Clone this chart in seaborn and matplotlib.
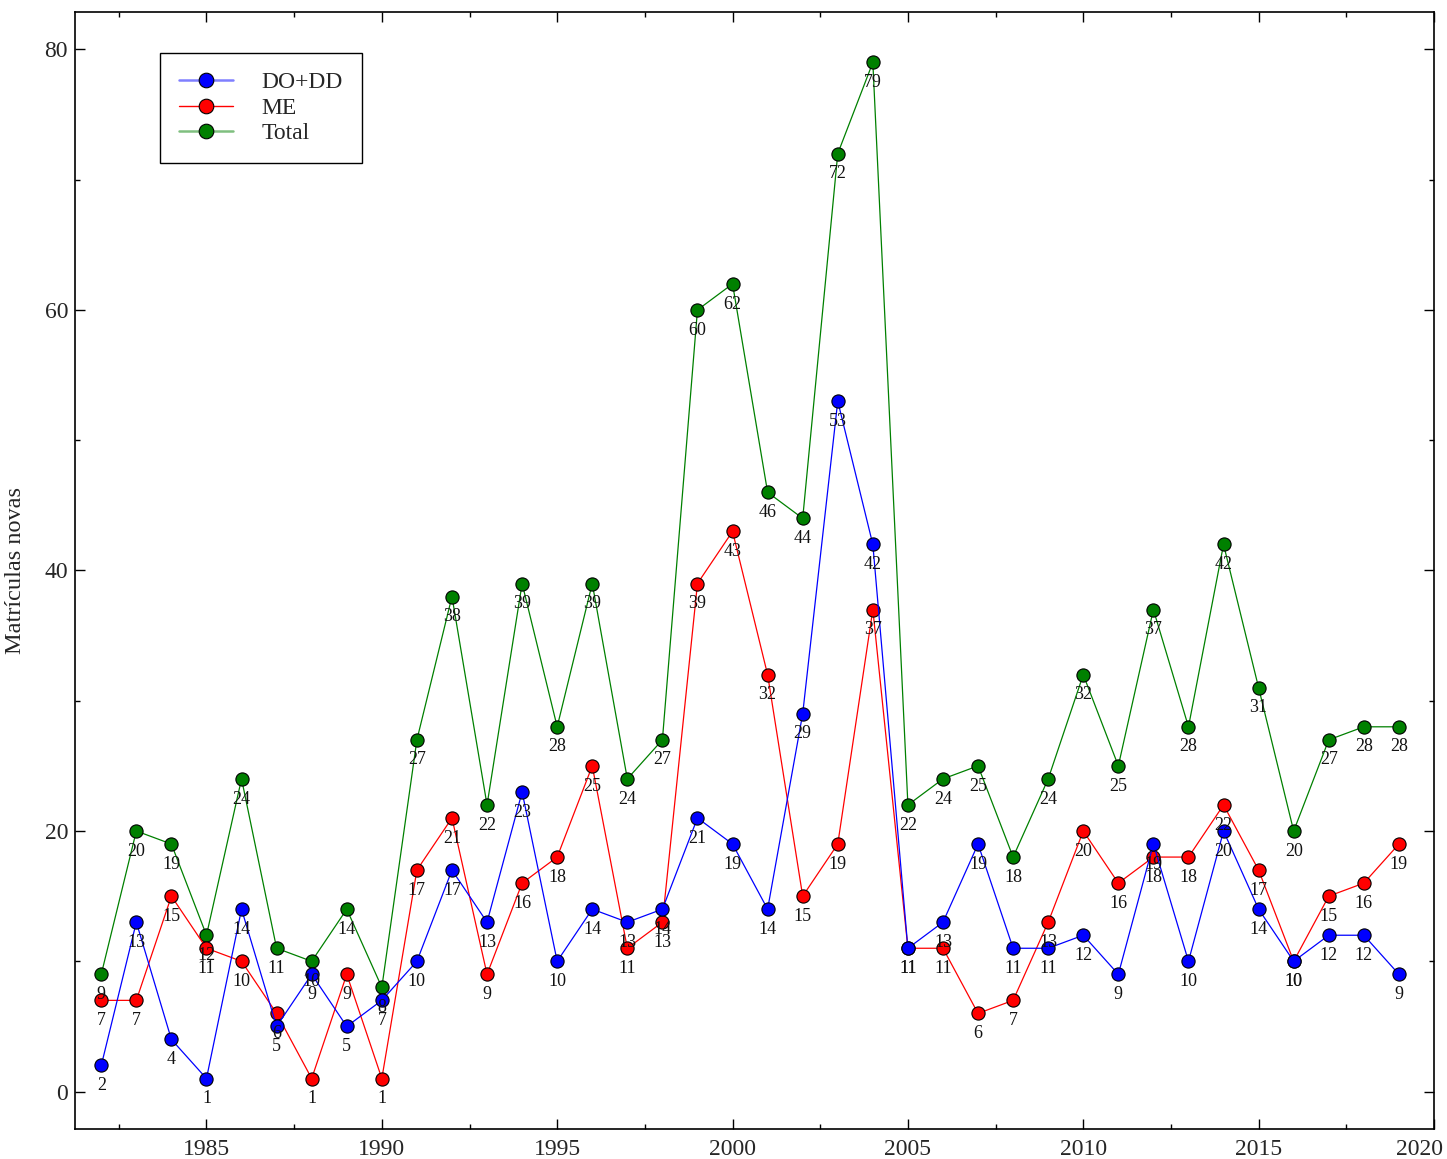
import numpy as np
import pandas as pd
import matplotlib
matplotlib.use("Agg")
import matplotlib.pyplot as plt
import matplotlib.transforms as mtransforms
from matplotlib.lines import Line2D
from matplotlib.ticker import MultipleLocator, FixedLocator
import seaborn as sns

years = list(range(1982, 2020))
do_dd = [2, 13, 4, 1, 14, 5, 9, 5, 7, 10, 17, 13, 23, 10, 14, 13, 14, 21, 19, 14,
         29, 53, 42, 11, 13, 19, 11, 11, 12, 9, 19, 10, 20, 14, 10, 12, 12, 9]
me = [7, 7, 15, 11, 10, 6, 1, 9, 1, 17, 21, 9, 16, 18, 25, 11, 13, 39, 43, 32,
      15, 19, 37, 11, 11, 6, 7, 13, 20, 16, 18, 18, 22, 17, 10, 15, 16, 19]
total = [9, 20, 19, 12, 24, 11, 10, 14, 8, 27, 38, 22, 39, 28, 39, 24, 27, 60, 62, 46,
         44, 72, 79, 22, 24, 25, 18, 24, 32, 25, 37, 28, 42, 31, 20, 27, 28, 28]
x_ticks = [1985, 1990, 1995, 2000, 2005, 2010, 2015, 2020]

series_names = ["DO+DD", "ME", "Total"]
series_colors = {"DO+DD": "#0000ff", "ME": "#ff0000", "Total": "#008000"}

df = pd.DataFrame({"Ano": years, "DO+DD": do_dd, "ME": me, "Total": total})
long_df = df.melt(id_vars="Ano", var_name="Serie", value_name="Matriculas")

sns.set_style("ticks")
plt.rcParams["font.family"] = ["Liberation Serif", "DejaVu Serif"]
plt.rcParams["mathtext.fontset"] = "stix"

fig = plt.figure(figsize=(14.47, 11.59), dpi=100)
ax = fig.add_axes([0.0518, 0.0256, 0.9392, 0.9638])

# draw Total first, DO+DD last so blue markers sit on top
for name in ["Total", "ME", "DO+DD"]:
    sub = long_df[long_df["Serie"] == name]
    sns.lineplot(data=sub, x="Ano", y="Matriculas", ax=ax, color=series_colors[name],
                 linewidth=0.9, marker="o", markersize=9.5, markeredgecolor="black",
                 markeredgewidth=0.8, markerfacecolor=series_colors[name],
                 legend=False, zorder=3)
    for x, y in zip(sub["Ano"], sub["Matriculas"]):
        ax.annotate(str(y), (x, y), xytext=(0, -14.5), textcoords="offset points",
                    ha="center", va="center", fontsize=13, color="#111111", zorder=4)

ax.set_xlim(1981.25, 2020)
ax.set_ylim(-2.9, 82.85)
ax.xaxis.set_major_locator(FixedLocator(x_ticks))
ax.xaxis.set_minor_locator(MultipleLocator(2.5))
ax.yaxis.set_major_locator(MultipleLocator(20))
ax.yaxis.set_minor_locator(MultipleLocator(10))
ax.tick_params(which="both", direction="in", top=True, right=True, width=1.0,
               labelsize=17, color="black")
ax.tick_params(which="major", length=7)
ax.tick_params(which="minor", length=3.5)
ax.tick_params(axis="y", pad=5)
ax.tick_params(axis="x", pad=7)
for sp in ax.spines.values():
    sp.set_linewidth(1.2)
    sp.set_color("black")

ax.set_xlabel("")
ax.set_ylabel("Matrículas novas", fontsize=17.5, labelpad=13)

# keep the right-most year label inside the figure
fig.canvas.draw()
for lab in ax.get_xticklabels():
    if lab.get_text() == str(x_ticks[-1]):
        lab.set_transform(lab.get_transform() +
                          mtransforms.ScaledTranslation(-14 / 100, 0, fig.dpi_scale_trans))

handles = [
    Line2D([0], [0], color=(0, 0, 1, 0.5), lw=1.8, marker="o", markersize=10.5,
           markerfacecolor="#0000ff", markeredgecolor="black", markeredgewidth=0.8),
    Line2D([0], [0], color=(1, 0, 0, 1.0), lw=1.0, marker="o", markersize=10.5,
           markerfacecolor="#ff0000", markeredgecolor="black", markeredgewidth=0.8),
    Line2D([0], [0], color=(0, 0.5, 0, 0.5), lw=1.8, marker="o", markersize=10.5,
           markerfacecolor="#008000", markeredgecolor="black", markeredgewidth=0.8),
]
leg = ax.legend(handles, series_names, loc="upper left", bbox_to_anchor=(0.0625, 0.9636),
                borderaxespad=0, fontsize=17, frameon=True, fancybox=False,
                framealpha=1, edgecolor="black", handlelength=2.3, handletextpad=1.2,
                labelspacing=0.17, borderpad=0.8)
leg.get_frame().set_linewidth(1.0)

fig.savefig("out.png", dpi=100)
